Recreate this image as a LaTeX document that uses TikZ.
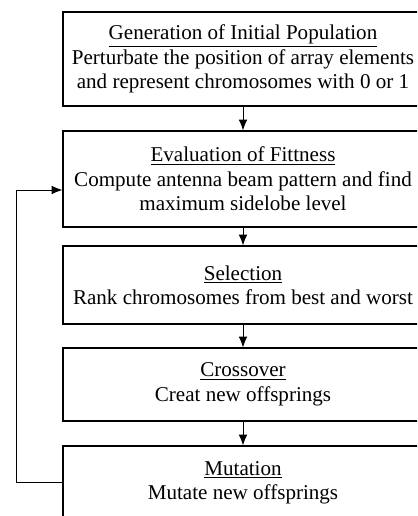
\documentclass[tikz,border=0pt]{standalone}
\usepackage{fontspec}
\setmainfont{Liberation Serif}
\usetikzlibrary{arrows.meta,positioning}

\begin{document}
\begin{tikzpicture}[x=0.75pt,y=0.75pt,>={Latex[length=8pt,width=6.5pt]},
  stage/.style={draw=black,line width=0.9pt,minimum width=270pt,align=center,
    font=\fontsize{15.8}{18.3}\selectfont,inner sep=2pt}]
\useasboundingbox (0,0) rectangle (417,516);
\clip (0,0) rectangle (417,516);
% the five stages
\node[stage,minimum height=70.5pt] (init) at (243,457) {\underline{Generation of Initial Population}\\Perturbate the position of array elements\\and represent chromosomes with 0 or 1};
\node[stage,minimum height=72pt] (fit) at (243,337) {\underline{Evaluation of Fittness}\\Compute antenna beam pattern and find\\maximum sidelobe level};
\node[stage,minimum height=58.5pt] (sel) at (243,231) {\underline{Selection}\\Rank chromosomes from best and worst};
\node[stage,minimum height=54.75pt] (cross) at (243,131.5) {\underline{Crossover}\\Creat new offsprings};
\node[stage,minimum height=54.75pt] (mut) at (243,33.5) {\underline{Mutation}\\Mutate new offsprings};
% flow
\draw[->,line width=0.7pt] (init) -- (fit);
\draw[->,line width=0.7pt] (fit) -- (sel);
\draw[->,line width=0.7pt] (sel) -- (cross);
\draw[->,line width=0.7pt] (cross) -- (mut);
% loop back
\coordinate (back) at (16,326);
\draw[->,line width=0.7pt] (mut.west) -| (back) -- (fit.west |- back);
\end{tikzpicture}
\end{document}
